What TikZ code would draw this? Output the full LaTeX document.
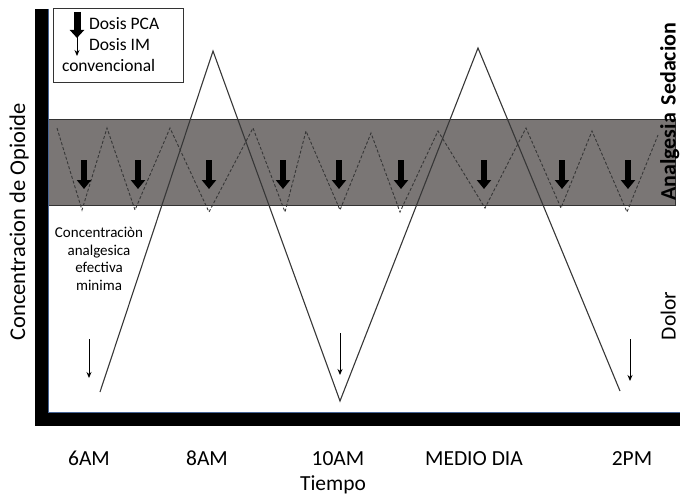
\documentclass[tikz,border=0pt]{standalone}
\usepackage{fontspec}
\setmainfont{Carlito}
\usetikzlibrary{arrows.meta}
\definecolor{bandgray}{RGB}{122,118,117}
\definecolor{linegray}{RGB}{55,55,55}
\definecolor{edgeblue}{RGB}{70,100,150}
\begin{document}
\begin{tikzpicture}[x=1pt,y=-1pt,
  every node/.style={inner sep=0pt, outer sep=0pt},
  ticklabel/.style={font=\fontsize{21.5}{25}\selectfont, anchor=base},
  sidelabel/.style={font=\fontsize{22}{26}\selectfont\bfseries, rotate=90, anchor=base},
  pcaarrow/.style={line width=6pt, -{Triangle[width=14pt,length=9pt]}},
  imarrow/.style={line width=0.9pt, -{Stealth[width=5pt,length=6pt]}},
  pcaline/.style={linegray, line width=0.9pt, dash pattern=on 3pt off 2pt},
  imline/.style={linegray, line width=1.1pt, line join=miter}
]
\useasboundingbox (0,0) rectangle (680,495);

% band
\draw[fill=bandgray, draw=black!80, line width=0.9pt] (48,119) rectangle (675,205);

% PCA dashed zigzag
\draw[pcaline] (57,128) -- (82,210) -- (107,128) -- (135,210) -- (170,128)
  -- (209,212) -- (253,128) -- (285,212) -- (306,131) -- (340,210)
  -- (371,133) -- (400,212) -- (438,131) -- (485,208) -- (526,128)
  -- (561,208) -- (592,131) -- (627,212) -- (658,135);

% PCA doses
\foreach \x in {84,138,209,283,339,401,484,562,628}
  \draw[pcaarrow] (\x,160) -- (\x,189);

% IM line
\coordinate (s0) at (100,392);
\coordinate (p1) at (213,51);
\coordinate (v1) at (340,401);
\coordinate (p2) at (478,48);
\coordinate (e0) at (620,391);
\draw[imline] (s0) -- (p1) -- (v1) -- (p2) -- (e0);

% IM doses
\draw[imarrow] (89,339) -- (89,378);
\draw[imarrow] (340,333) -- (340,375);
\draw[imarrow] (630,339) -- (630,381);

% axes
\fill[black] (35,9) rectangle (48,426);
\fill[black] (35,413) rectangle (680,426);
\draw[edgeblue, line width=0.6pt] (48.3,9) -- (48.3,412.7) -- (680,412.7);

% legend
\node[draw=black!80, line width=0.9pt, minimum width=130pt, minimum height=74pt, anchor=north west] (leg) at (53,8) {};
\draw[line width=7pt, -{Triangle[width=14pt,length=8pt]}] (77,12) -- (77,38);
\draw[imarrow] (77,37) -- (77,56);
\node[font=\fontsize{17.5}{20}\selectfont, anchor=base west] (lpca) at (89,30) {Dosis PCA};
\node[font=\fontsize{17.5}{20}\selectfont, anchor=base west] (lim) at (89,51) {Dosis IM};
\node[font=\fontsize{17.5}{20}\selectfont, anchor=base west] (lconv) at (62,72) {convencional};

% minimum effective concentration text
\node[font=\fontsize{15}{17.7}\selectfont, align=center] (mec) at (99,259) {Concentraciòn\\analgesica\\efectiva\\minima};

% axis labels
\node[font=\fontsize{22.5}{26}\selectfont, rotate=90, anchor=base] (ylab) at (25,222) {Concentracion de Opioide};
\node[font=\fontsize{21.5}{25}\selectfont, anchor=base] (xlab) at (333,490) {Tiempo};

% ticks
\node[ticklabel] (t6) at (89,465) {6AM};
\node[ticklabel] (t8) at (207,465) {8AM};
\node[ticklabel] (t10) at (338,465) {10AM};
\node[ticklabel] (t12) at (474,465) {MEDIO DIA};
\node[ticklabel] (t14) at (632,465) {2PM};

% side labels
\node[sidelabel] (sed) at (675.5,64) {Sedacion};
\node[sidelabel] (ana) at (675.5,157) {Analgesia};
\node[font=\fontsize{21.5}{25}\selectfont, rotate=90, anchor=base] (dol) at (675.5,316) {Dolor};
\end{tikzpicture}
\end{document}
